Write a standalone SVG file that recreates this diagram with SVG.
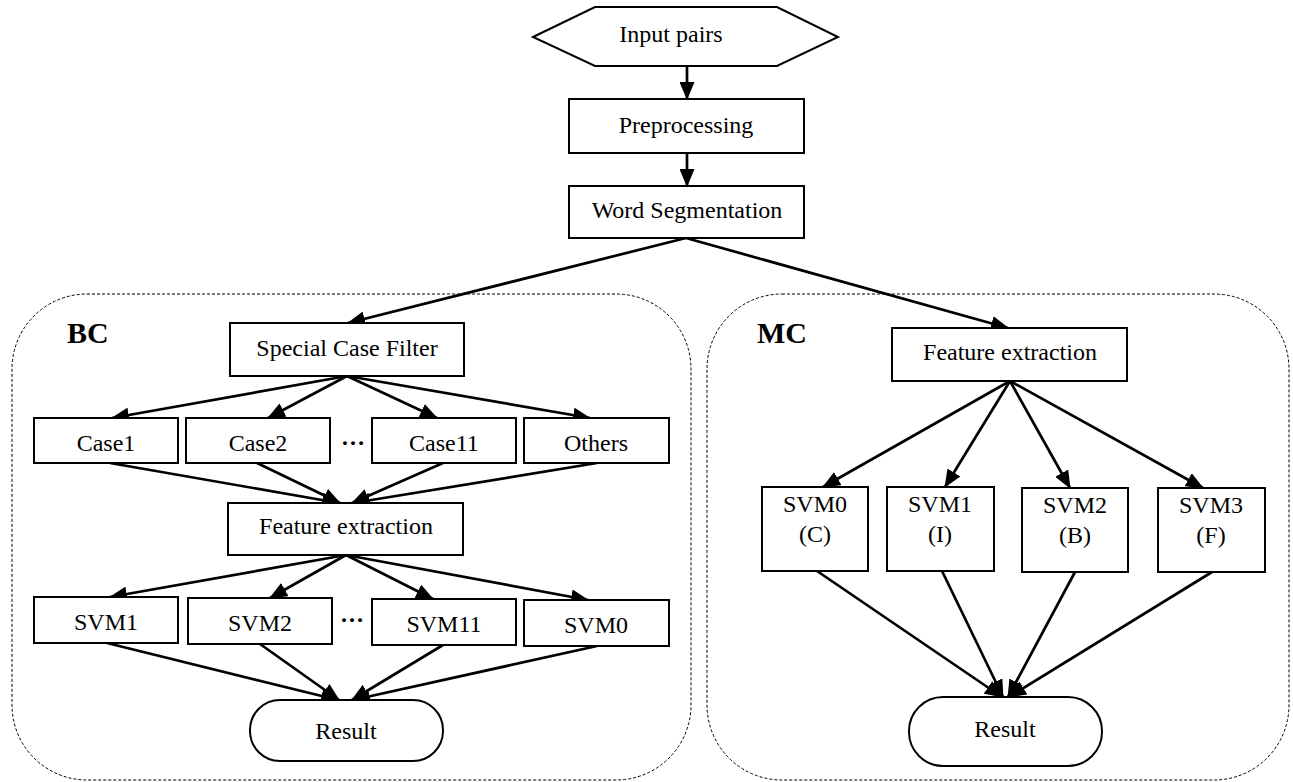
<svg xmlns="http://www.w3.org/2000/svg" width="1293" height="782" viewBox="0 0 1293 782">
<style>
.box{fill:#fff;stroke:#000;stroke-width:2}
.grp{fill:none;stroke:#000;stroke-width:1;stroke-dasharray:3,2}
.t{font-family:"Liberation Serif","Times New Roman",serif;font-size:24px;fill:#000;text-anchor:middle}
.h{font-family:"Liberation Serif","Times New Roman",serif;font-size:30px;font-weight:bold;fill:#000}
.c{fill:none;stroke:#000;stroke-width:2.7}
</style>
<defs>
<marker id="ah" viewBox="0 0 18 15" refX="17" refY="7.5" markerWidth="18" markerHeight="15" markerUnits="userSpaceOnUse" orient="auto">
<path d="M0,0 L18,7.5 L0,15 z" fill="#000"/>
</marker>
</defs>
<rect x="0" y="0" width="1293" height="782" fill="#fff"/>

<g id="bc-group">
<rect class="grp" x="12" y="294" width="679" height="486" rx="75" ry="75"/>
<text class="h" x="67" y="343">BC</text>
</g>
<g id="mc-group">
<rect class="grp" x="707" y="294" width="582" height="486" rx="75" ry="75"/>
<text class="h" x="757" y="343">MC</text>
</g>

<g id="connectors">
<line class="c" x1="687" y1="66" x2="687" y2="99" marker-end="url(#ah)"/>
<line class="c" x1="687" y1="153" x2="687" y2="186" marker-end="url(#ah)"/>
<line class="c" x1="686" y1="238" x2="348" y2="323" marker-end="url(#ah)"/>
<line class="c" x1="686" y1="238" x2="1008" y2="328" marker-end="url(#ah)"/>
<line class="c" x1="347" y1="376" x2="112" y2="418" marker-end="url(#ah)"/>
<line class="c" x1="347" y1="376" x2="268" y2="418" marker-end="url(#ah)"/>
<line class="c" x1="347" y1="376" x2="437" y2="418" marker-end="url(#ah)"/>
<line class="c" x1="347" y1="376" x2="590" y2="418" marker-end="url(#ah)"/>
<line class="c" x1="110" y1="463" x2="339" y2="503" marker-end="url(#ah)"/>
<line class="c" x1="257" y1="463" x2="340" y2="503" marker-end="url(#ah)"/>
<line class="c" x1="443" y1="463" x2="352" y2="503" marker-end="url(#ah)"/>
<line class="c" x1="597" y1="463" x2="353" y2="503" marker-end="url(#ah)"/>
<line class="c" x1="346" y1="555" x2="110" y2="597" marker-end="url(#ah)"/>
<line class="c" x1="346" y1="555" x2="270" y2="598" marker-end="url(#ah)"/>
<line class="c" x1="346" y1="555" x2="433" y2="599" marker-end="url(#ah)"/>
<line class="c" x1="346" y1="555" x2="588" y2="600" marker-end="url(#ah)"/>
<line class="c" x1="107" y1="643" x2="338" y2="700" marker-end="url(#ah)"/>
<line class="c" x1="260" y1="644" x2="339" y2="700" marker-end="url(#ah)"/>
<line class="c" x1="443" y1="645" x2="352" y2="700" marker-end="url(#ah)"/>
<line class="c" x1="597" y1="646" x2="353" y2="700" marker-end="url(#ah)"/>
<line class="c" x1="1010" y1="381" x2="823" y2="487" marker-end="url(#ah)"/>
<line class="c" x1="1010" y1="381" x2="945" y2="487" marker-end="url(#ah)"/>
<line class="c" x1="1010" y1="381" x2="1070" y2="488" marker-end="url(#ah)"/>
<line class="c" x1="1010" y1="381" x2="1203" y2="488" marker-end="url(#ah)"/>
<line class="c" x1="817" y1="571" x2="1002" y2="697" marker-end="url(#ah)"/>
<line class="c" x1="942" y1="571" x2="1003" y2="697" marker-end="url(#ah)"/>
<line class="c" x1="1075" y1="572" x2="1008" y2="697" marker-end="url(#ah)"/>
<line class="c" x1="1212" y1="572" x2="1009" y2="697" marker-end="url(#ah)"/>
</g>

<g id="input">
<polygon class="box" points="533,37 595,7 777,7 838,37 777,66 595,66"/>
<text class="t" x="671" y="42">Input pairs</text>
</g>
<g id="preprocessing">
<rect class="box" x="569" y="99" width="235" height="54"/>
<text class="t" x="686" y="133">Preprocessing</text>
</g>
<g id="wordseg">
<rect class="box" x="569" y="186" width="235" height="52"/>
<text class="t" x="687" y="218">Word Segmentation</text>
</g>

<g id="scf">
<rect class="box" x="230" y="323" width="234" height="53"/>
<text class="t" x="347" y="356">Special Case Filter</text>
</g>
<g id="case1">
<rect class="box" x="34" y="418" width="144" height="45"/>
<text class="t" x="106" y="451">Case1</text>
</g>
<g id="case2">
<rect class="box" x="186" y="418" width="144" height="45"/>
<text class="t" x="258" y="451">Case2</text>
</g>
<text id="dots1" class="t" x="353" y="445" font-weight="bold">…</text>
<g id="case11">
<rect class="box" x="372" y="418" width="144" height="45"/>
<text class="t" x="444" y="451">Case11</text>
</g>
<g id="others">
<rect class="box" x="524" y="418" width="145" height="45"/>
<text class="t" x="596" y="451">Others</text>
</g>
<g id="fe-bc">
<rect class="box" x="228" y="503" width="235" height="52"/>
<text class="t" x="346" y="534">Feature extraction</text>
</g>
<g id="svm1-bc">
<rect class="box" x="34" y="597" width="144" height="46"/>
<text class="t" x="106" y="630">SVM1</text>
</g>
<g id="svm2-bc">
<rect class="box" x="188" y="598" width="144" height="46"/>
<text class="t" x="260" y="631">SVM2</text>
</g>
<text id="dots2" class="t" x="352" y="622" font-weight="bold">…</text>
<g id="svm11-bc">
<rect class="box" x="372" y="599" width="144" height="46"/>
<text class="t" x="444" y="632">SVM11</text>
</g>
<g id="svm0-bc">
<rect class="box" x="524" y="600" width="145" height="46"/>
<text class="t" x="596" y="633">SVM0</text>
</g>
<g id="result-bc">
<rect class="box" x="250" y="700" width="193" height="61" rx="30" ry="30"/>
<text class="t" x="346" y="739">Result</text>
</g>

<g id="fe-mc">
<rect class="box" x="892" y="328" width="235" height="53"/>
<text class="t" x="1010" y="360">Feature extraction</text>
</g>
<g id="svm0-mc">
<rect class="box" x="762" y="487" width="106" height="84"/>
<text class="t" x="815" y="512">SVM0</text>
<text class="t" x="815" y="542">(C)</text>
</g>
<g id="svm1-mc">
<rect class="box" x="887" y="487" width="107" height="84"/>
<text class="t" x="940" y="512">SVM1</text>
<text class="t" x="940" y="542">(I)</text>
</g>
<g id="svm2-mc">
<rect class="box" x="1022" y="488" width="106" height="84"/>
<text class="t" x="1075" y="513">SVM2</text>
<text class="t" x="1075" y="543">(B)</text>
</g>
<g id="svm3-mc">
<rect class="box" x="1158" y="488" width="107" height="84"/>
<text class="t" x="1211" y="513">SVM3</text>
<text class="t" x="1211" y="543">(F)</text>
</g>
<g id="result-mc">
<rect class="box" x="909" y="697" width="193" height="69" rx="34" ry="34"/>
<text class="t" x="1005" y="737">Result</text>
</g>
</svg>
